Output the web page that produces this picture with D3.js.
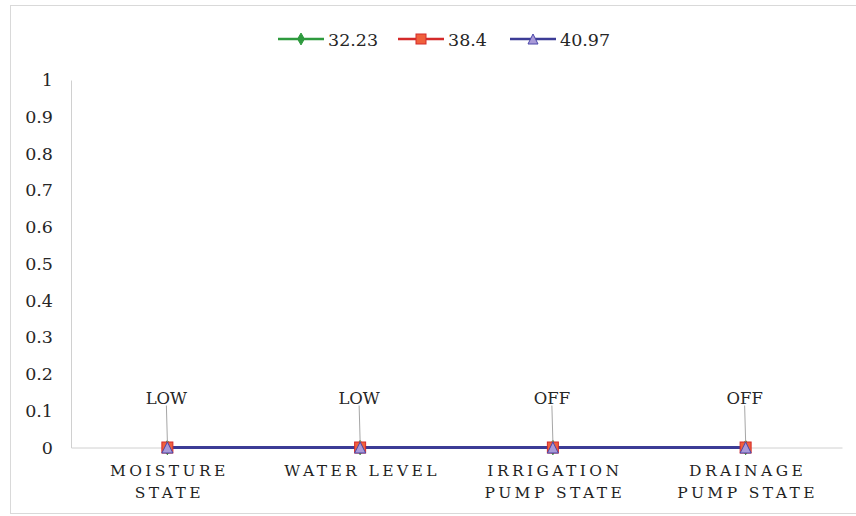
<!DOCTYPE html>
<html>
<head>
  <meta charset="utf-8">
  <title>sensor states</title>
  <script type="text/javascript" src="https://cdn.jsdelivr.net/npm/d3@7"></script>
  <style>
    body { margin: 0; background: #fff; }
    svg text { fill: #262626; }
  </style>
</head>
<body>
<script type="text/javascript">
// chart data
const categories = ["MOISTURE|STATE", "WATER LEVEL", "IRRIGATION|PUMP STATE", "DRAINAGE|PUMP STATE"];
const seriesNames = ["32.23", "38.4", "40.97"];
const series1 = [0, 0, 0, 0];
const series2 = [0, 0, 0, 0];
const series3 = [0, 0, 0, 0];
const pointLabels = ["LOW", "LOW", "OFF", "OFF"];
const yTicks = [0, 0.1, 0.2, 0.3, 0.4, 0.5, 0.6, 0.7, 0.8, 0.9, 1];

const W = 856, H = 516;
const margin = { top: 80, right: 14, bottom: 68, left: 71 };
const w = 842 - margin.left;
const h = 447.5 - margin.top;
const serif = "DejaVu Serif";

const colors = ["#2e9a3e", "#d42a2a", "#3c3c96"];
const fills = ["#2e9a3e", "#f0603c", "#a99ad8"];
const strokes = ["#2e9a3e", "#d42a2a", "#4a46a8"];

const svg = d3.select("body").append("svg")
  .attr("width", W).attr("height", H)
  .attr("font-family", serif);

// outer frame
svg.append("rect")
  .attr("x", 10.5).attr("y", 5.5)
  .attr("width", 850).attr("height", 508)
  .attr("fill", "none").attr("stroke", "#d9d9d9");

const g = svg.append("g")
  .attr("transform", "translate(" + margin.left + "," + margin.top + ")");

const xScale = d3.scaleBand().domain(categories).range([0, w]);
const yScale = d3.scaleLinear().domain([0, 1]).range([h, 0]);
const cx = d => xScale(d) + xScale.bandwidth() / 2;

// y axis
const yAxis = d3.axisLeft(yScale).tickValues(yTicks).tickSize(0).tickPadding(18)
  .tickFormat(d => d3.format("")(+d.toFixed(1)));
const ya = g.append("g").call(yAxis).attr("font-family", serif);
ya.select(".domain").attr("stroke", "#d0d0d0");
ya.selectAll("text").attr("font-size", 17.5);

// x axis
const xAxis = d3.axisBottom(xScale).tickSize(0).tickFormat("");
const xa = g.append("g").attr("transform", "translate(0," + h + ")").call(xAxis)
  .attr("font-family", serif);
xa.select(".domain").attr("stroke", "#d0d0d0");
xa.selectAll(".tick").each(function(d) {
  const t = d3.select(this).append("text")
    .attr("text-anchor", "middle")
    .attr("font-size", 15.5)
    .style("letter-spacing", "3.4px")
    .style("fill", "#1f1f1f");
  d.split("|").forEach((line, i) => {
    t.append("tspan").attr("x", 2).attr("y", 28 + i * 22).text(line);
  });
});

// lines and markers
const allSeries = [series1, series2, series3];
const line = d3.line().x((d, i) => cx(categories[i])).y(d => yScale(d));

allSeries.forEach((s, k) => {
  g.append("path").datum(s)
    .attr("d", line)
    .attr("fill", "none")
    .attr("stroke", colors[k])
    .attr("stroke-width", 3);
});

function marker(sel, k, x, y, size) {
  if (k === 0) {
    sel.append("path")
      .attr("d", d3.symbol(d3.symbolDiamond, size * size * 0.5)())
      .attr("transform", "translate(" + x + "," + y + ")")
      .attr("fill", fills[0]).attr("stroke", strokes[0]);
  } else if (k === 1) {
    sel.append("rect")
      .attr("x", x - size / 2).attr("y", y - size / 2)
      .attr("width", size).attr("height", size)
      .attr("fill", fills[1]).attr("stroke", strokes[1]).attr("stroke-width", 1);
  } else {
    sel.append("path")
      .attr("d", "M" + x + "," + (y - size / 2) + "L" + (x + size / 2) + "," + (y + size / 2) +
        "L" + (x - size / 2) + "," + (y + size / 2) + "Z")
      .attr("fill", fills[2]).attr("stroke", strokes[2]).attr("stroke-width", 1);
  }
}

allSeries.forEach((s, k) => {
  s.forEach((v, i) => marker(g, k, cx(categories[i]), yScale(v), 11));
});

// data labels with leader lines
pointLabels.forEach((lab, i) => {
  const x = cx(categories[i]);
  const y = yScale(series3[i]);
  g.append("line")
    .attr("x1", x - 1).attr("x2", x)
    .attr("y1", y - 42).attr("y2", y - 6)
    .attr("stroke", "#a6a6a6");
  g.append("text")
    .attr("x", x - 1).attr("y", y - 44)
    .attr("text-anchor", "middle")
    .attr("font-size", 16.5)
    .text(lab);
});

// legend
const legendX = [278, 398, 510];
const lg = svg.append("g");
seriesNames.forEach((name, k) => {
  const x0 = legendX[k];
  lg.append("line")
    .attr("x1", x0).attr("x2", x0 + 46)
    .attr("y1", 39).attr("y2", 39)
    .attr("stroke", colors[k]).attr("stroke-width", 2.5);
  marker(lg, k, x0 + 23, 39, k === 0 ? 9 : 10);
  lg.append("text")
    .attr("x", x0 + 50).attr("y", 46)
    .attr("font-size", 17.5)
    .text(name);
});
</script>
</body>
</html>
